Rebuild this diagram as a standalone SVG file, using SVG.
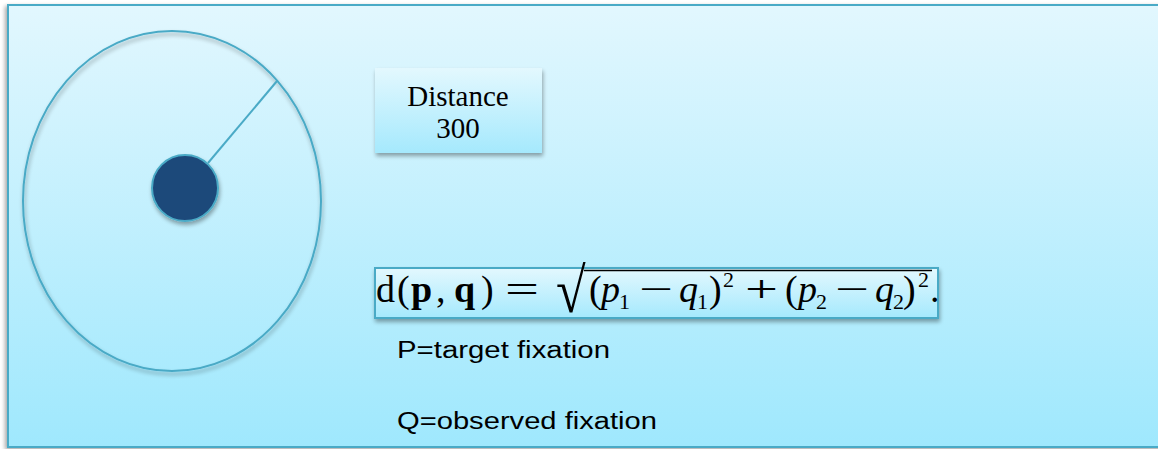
<svg xmlns="http://www.w3.org/2000/svg" width="1158" height="449" viewBox="0 0 1158 449">
  <defs>
    <linearGradient id="bg" x1="0" y1="0" x2="0" y2="1">
      <stop offset="0" stop-color="#e2f7fe"/>
      <stop offset="1" stop-color="#9fe8fd"/>
    </linearGradient>
    <linearGradient id="box" x1="0" y1="0" x2="0" y2="1">
      <stop offset="0" stop-color="#e3f8fe"/>
      <stop offset="1" stop-color="#a5e9fd"/>
    </linearGradient>
    <filter id="sh" x="-10%" y="-10%" width="125%" height="125%">
      <feGaussianBlur in="SourceAlpha" stdDeviation="2"/>
      <feOffset dx="-2" dy="2" result="b"/>
      <feComponentTransfer><feFuncA type="linear" slope="0.35"/></feComponentTransfer>
      <feMerge><feMergeNode/><feMergeNode in="SourceGraphic"/></feMerge>
    </filter>
    <filter id="sh2" x="-10%" y="-10%" width="125%" height="130%">
      <feGaussianBlur in="SourceAlpha" stdDeviation="2"/>
      <feOffset dx="1" dy="3" result="b"/>
      <feComponentTransfer><feFuncA type="linear" slope="0.35"/></feComponentTransfer>
      <feMerge><feMergeNode/><feMergeNode in="SourceGraphic"/></feMerge>
    </filter>
    <style>
      .ln { fill: none; stroke: #4aaac6; stroke-width: 2; }
      .ser { font-family: "Liberation Serif", "Times New Roman", serif; fill: #000; }
      .san { font-family: "Liberation Sans", Arial, sans-serif; font-size: 23px; fill: #000; }
      .m { font-size: 38px; }
      .s { font-size: 22px; }
      .it { font-style: italic; }
      .bf { font-weight: bold; }
    </style>
  </defs>

  <g id="frame">
    <rect x="8" y="5" width="1160" height="442" fill="url(#bg)" stroke="#4aaac6" stroke-width="2" filter="url(#sh)"/>
  </g>

  <g id="ring">
    <ellipse cx="172" cy="201" rx="149" ry="170" class="ln" filter="url(#sh2)"/>
  </g>

  <g id="connectors">
    <line x1="208" y1="163" x2="277" y2="81" stroke="#4aaac6" stroke-width="2"/>
  </g>

  <g id="target">
    <circle cx="185" cy="188" r="33" fill="#1f487a" stroke="#4aaac6" stroke-width="2" filter="url(#sh2)"/>
  </g>

  <g id="distance">
    <rect x="375" y="68" width="167" height="85" fill="url(#box)" filter="url(#sh2)"/>
    <text class="ser" font-size="29" x="458" y="106" text-anchor="middle">Distance</text>
    <text class="ser" font-size="29" x="458" y="138" text-anchor="middle">300</text>
  </g>

  <g id="formula">
    <rect x="375" y="268" width="563" height="50" fill="url(#box)" stroke="#4aaac6" stroke-width="2" filter="url(#sh2)"/>
    <g class="ser m">
      <text x="376" y="302">d</text>
      <text x="397" y="302">(</text>
      <text x="411" y="302" class="bf">p</text>
      <text x="436" y="302">,</text>
      <text x="454" y="302" class="bf">q</text>
      <text x="481" y="302">)</text>
      <text x="505" y="302" textLength="34" lengthAdjust="spacingAndGlyphs">=</text>
      <text transform="translate(556,312) scale(1.35,1.58)" x="0" y="0" font-size="40">√</text>
      <text x="589" y="302">(</text>
      <text x="601" y="302" class="it">p</text>
      <text x="639" y="302" textLength="34" lengthAdjust="spacingAndGlyphs">−</text>
      <text x="679" y="302" class="it">q</text>
      <text x="709" y="302">)</text>
      <text x="745" y="302" textLength="33" lengthAdjust="spacingAndGlyphs">+</text>
      <text x="785" y="302">(</text>
      <text x="798" y="302" class="it">p</text>
      <text x="835" y="302" textLength="34" lengthAdjust="spacingAndGlyphs">−</text>
      <text x="875" y="302" class="it">q</text>
      <text x="903" y="302">)</text>
      <text x="930" y="302">.</text>
    </g>
    <g class="ser s">
      <text x="619" y="309">1</text>
      <text x="697" y="309">1</text>
      <text x="723" y="287">2</text>
      <text x="816" y="309">2</text>
      <text x="893" y="309">2</text>
      <text x="918" y="287">2</text>
    </g>
    <line x1="584" y1="270.5" x2="932" y2="270.5" stroke="#000" stroke-width="1.6"/>
  </g>

  <g id="legend">
    <text class="san" x="397" y="358" textLength="213" lengthAdjust="spacingAndGlyphs">P=target fixation</text>
    <text class="san" x="397" y="429" textLength="260" lengthAdjust="spacingAndGlyphs">Q=observed fixation</text>
  </g>
</svg>
